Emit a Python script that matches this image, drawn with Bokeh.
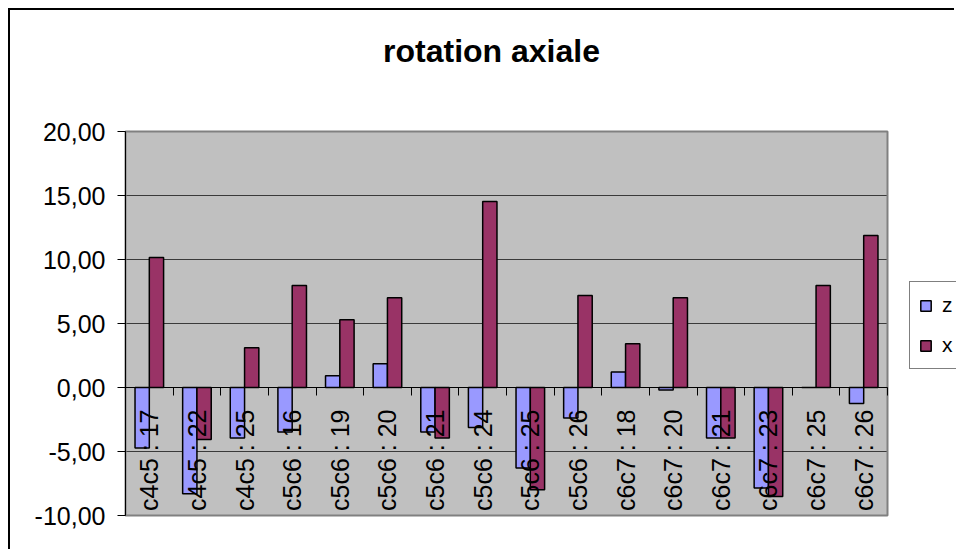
import math
from bokeh.plotting import figure
from bokeh.models import (ColumnDataSource, Range1d, LinearAxis, Legend, LegendItem,
                          FixedTicker, CustomJSTickFormatter, Label)
from bokeh.transform import dodge
from bokeh.embed import file_html
from bokeh.resources import INLINE

categories = ["c4c5 : 17", "c4c5 : 22", "c4c5 : 25", "c5c6 : 16", "c5c6 : 19",
              "c5c6 : 20", "c5c6 : 21", "c5c6 : 24", "c5c6 : 25", "c5c6 : 26",
              "c6c7 : 18", "c6c7 : 20", "c6c7 : 21", "c6c7 : 23", "c6c7 : 25",
              "c6c7 : 26"]
z_values = [-4.73, -8.30, -3.94, -3.47, 0.91, 1.85, -3.47, -3.13, -6.29, -2.38,
            1.22, -0.20, -3.94, -7.86, 0.0, -1.25]
x_values = [10.15, -4.07, 3.10, 7.96, 5.30, 7.02, -3.94, 14.54, -7.99, 7.18,
            3.42, 7.02, -3.94, -8.51, 7.96, 11.87]
y_ticks = [-10, -5, 0, 5, 10, 15, 20]
title_text = "rotation axiale"

FONT = "Liberation Sans"
n = len(categories)
centers = [i + 0.5 for i in range(n)]
y_min, y_max = min(y_ticks), max(y_ticks)

# layout in canvas pixels: the canvas is the whole chart area,
# the grey plot area sits inside it
W, H = 946, 541
PA_LEFT, PA_WIDTH, PA_TOP, PA_HEIGHT = 115, 762, 121, 384
ppx = PA_WIDTH / n
ppy = PA_HEIGHT / (y_max - y_min)
x_range = Range1d(-PA_LEFT / ppx, n + (W - PA_LEFT - PA_WIDTH) / ppx)
y_range = Range1d(y_min - (H - PA_TOP - PA_HEIGHT) / ppy, y_max + PA_TOP / ppy)

src = ColumnDataSource(dict(xc=centers, cat=categories, z=z_values, x=x_values))

p = figure(width=W, height=H, x_range=x_range, y_range=y_range,
           output_backend="svg", toolbar_location=None,
           x_axis_location=None, y_axis_location=None, title=None)
p.min_border = 0
p.margin = (8, 0, 0, 8)
p.styles = {"border-left": "2px solid black", "border-top": "2px solid black"}
p.background_fill_color = "white"
p.border_fill_color = "white"
p.outline_line_color = None
p.xgrid.visible = False
p.ygrid.visible = False

# grey plot area
p.quad(left=[0], right=[n], bottom=[y_min], top=[y_max],
       fill_color="#C0C0C0", line_color=None)
# horizontal gridlines
p.segment(x0=[0] * len(y_ticks), x1=[n] * len(y_ticks), y0=y_ticks, y1=y_ticks,
          line_color="#3a3a3a", line_width=1)
# plot area border
p.quad(left=[0], right=[n], bottom=[y_min], top=[y_max],
       fill_color=None, line_color="#808080", line_width=2)

# bars
rz = p.vbar(x=dodge("xc", -0.15), top="z", bottom=0, width=0.3,
            source=src, fill_color="#9999FF", line_color="black", line_width=1.5)
rx = p.vbar(x=dodge("xc", 0.15), top="x", bottom=0, width=0.3,
            source=src, fill_color="#993366", line_color="black", line_width=1.5)

# y axis at x = 0
yax = LinearAxis(fixed_location=0, bounds=(y_min, y_max), ticker=FixedTicker(ticks=y_ticks))
yax.formatter = CustomJSTickFormatter(code="return tick.toFixed(2).replace('.', ',');")
yax.major_label_text_font = FONT
yax.major_label_text_font_size = "25px"
yax.major_label_text_color = "black"
yax.major_tick_out = 8
yax.major_tick_in = 0
yax.minor_tick_out = 0
yax.minor_tick_in = 0
yax.major_label_standoff = 12
yax.axis_line_color = "black"
yax.major_tick_line_color = "black"
p.add_layout(yax, "left")

# category labels at y = 0
cax = LinearAxis(fixed_location=0, ticker=FixedTicker(ticks=centers))
cax.formatter = CustomJSTickFormatter(args=dict(cats=categories),
                                      code="return cats[Math.floor(tick)];")
cax.major_label_orientation = math.pi / 2
cax.major_label_text_font = FONT
cax.major_label_text_font_size = "25px"
cax.major_label_text_color = "black"
cax.major_tick_out = 0
cax.major_tick_in = 0
cax.minor_tick_out = 0
cax.minor_tick_in = 0
cax.axis_line_color = None
cax.major_label_standoff = 22
p.add_layout(cax, "below")

# tick marks between categories at y = 0
nax = LinearAxis(fixed_location=0, bounds=(0, n),
                 ticker=FixedTicker(ticks=list(range(n + 1))))
nax.major_label_text_font_size = "0px"
nax.major_label_text_alpha = 0
nax.major_tick_out = 8
nax.major_tick_in = 0
nax.minor_tick_out = 0
nax.minor_tick_in = 0
nax.axis_line_color = "black"
nax.major_tick_line_color = "black"
p.add_layout(nax, "below")

# title
p.add_layout(Label(x=481, y=H - 40, x_units="screen", y_units="screen", text=title_text,
                   text_font=FONT, text_font_size="32px", text_font_style="bold",
                   text_align="center", text_baseline="middle", text_color="black"))

# legend
lg = Legend(items=[LegendItem(label="z", renderers=[rz]),
                   LegendItem(label="x", renderers=[rx])],
            location=(899, 182))
lg.label_text_font = FONT
lg.label_text_font_size = "21px"
lg.label_text_color = "black"
lg.glyph_width = 13
lg.glyph_height = 13
lg.label_height = 28
lg.spacing = 12
lg.padding = 9
lg.margin = 0
lg.label_standoff = 10
lg.border_line_color = "black"
lg.border_line_width = 1
lg.background_fill_color = "white"
lg.background_fill_alpha = 1
p.add_layout(lg, "center")

open("out.html", "w").write(file_html(p, INLINE))
